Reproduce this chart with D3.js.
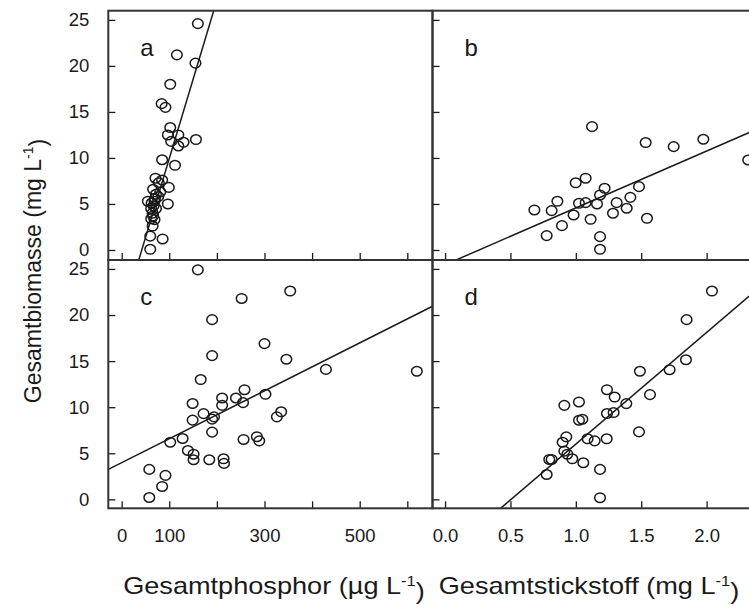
<!DOCTYPE html>
<html>
<head>
<meta charset="utf-8">
<script src="https://cdn.jsdelivr.net/npm/d3@7"></script>
<style>
  html, body { margin: 0; padding: 0; background: #fff; }
  svg { display: block; font-family: "Liberation Sans", Arial, sans-serif; }
</style>
</head>
<body>
<svg id="chart" width="749" height="610"></svg>
<script>
// ---------- data ----------
// Panel a: total phosphorus (µg/L) vs total biomass (mg/L)
const phosA = [160,116,155,102,84,92,102,97,119,156,104,130,119,85,112,71,85,78,99,66,72,81,55,69,97,62,72,65,62,69,65,60,86,60,77,63,67,66,70];
const bioA  = [24.6,21.2,20.3,18.0,15.9,15.5,13.3,12.5,12.5,12.0,11.8,11.7,11.3,9.8,9.2,7.8,7.6,7.3,6.8,6.6,6.05,6.3,5.3,5.3,5.0,4.5,4.5,4.0,3.4,3.3,2.6,1.5,1.2,0.07,5.8,5.1,4.8,3.7,5.6];
// Panel b: total nitrogen (mg/L) vs total biomass
const nitB = [0.683,0.777,0.815,0.859,0.894,0.983,0.999,1.024,1.075,1.075,1.124,1.113,1.162,1.185,1.220,1.185,1.185,1.284,1.312,1.389,1.417,1.483,1.534,1.544,1.748,1.975,2.318];
const bioB = [4.35,1.56,4.28,5.29,2.64,3.8,7.3,5.07,7.8,5.14,13.4,3.33,5.0,5.98,6.7,1.45,0.07,3.99,5.14,4.53,5.72,6.88,11.67,3.44,11.23,12.03,9.78];
// Panel c
const phosC = [160,252,354,190,300,190,346,429,620,166,258,211,240,302,255,211,149,172,194,190,149,335,326,190,128,102,256,284,289,139,151,151,184,214,215,58,92,85,58];
const bioC  = [24.9,21.8,22.6,19.5,16.9,15.6,15.2,14.1,13.9,13.0,11.9,11.0,11.0,11.4,10.5,10.2,10.4,9.3,8.95,8.7,8.6,9.5,8.95,7.3,6.6,6.2,6.5,6.8,6.35,5.3,4.9,4.3,4.3,4.4,3.9,3.25,2.6,1.4,0.2];
// Panel d
const nitD = [2.041,1.847,1.842,1.717,1.490,1.567,1.238,1.297,1.386,0.912,1.024,1.024,1.050,1.238,1.289,1.483,0.927,0.899,1.090,1.144,1.236,0.912,0.935,0.973,0.797,0.815,1.057,0.777,1.185,1.185];
const bioD = [22.6,19.5,15.15,14.07,13.9,11.36,11.9,11.1,10.39,10.2,10.57,8.59,8.69,9.31,9.42,7.32,6.78,6.2,6.57,6.35,6.57,5.23,4.9,4.4,4.33,4.33,3.97,2.7,3.25,0.18];
// fitted regression lines [intercept, slope]
const fitA = [-7.26, 0.172];
const fitB = [-1.61, 6.18];
const fitC = [3.98, 0.026];
const fitD = [-6.12, 12.12];
// ticks
const bioTicks = [0, 5, 10, 15, 20, 25];
const phosTicks = [0, 100, 200, 300, 400, 500, 600];
const phosTickLabels = ["0", "100", "", "300", "", "500", ""];
const nitTicks = [0, 0.5, 1.0, 1.5, 2.0];
const nitTickLabels = ["0.0", "0.5", "1.0", "1.5", "2.0"];
const panelLetters = ["a", "b", "c", "d"];

// ---------- layout ----------
const svg = d3.select("#chart");
const X0 = 108.3, XM = 432.5, X1 = 756.7;
const Y0 = 10.7, YM = 260, Y1 = 508.3;
const ink = "#1a1a1a";

const xP = d3.scaleLinear().domain([-28.1, 652.9]).range([X0, XM]);
const xN = d3.scaleLinear().domain([-0.096, 2.383]).range([XM, X1]);
const yT = d3.scaleLinear().domain([-1.09, 26.0]).range([YM, Y0]);
const yB = d3.scaleLinear().domain([-0.97, 25.97]).range([Y1, YM]);

const panels = [
  {x: xP, y: yT, xs: phosA, ys: bioA, fit: fitA, letter: panelLetters[0], left: true,  bottom: false},
  {x: xN, y: yT, xs: nitB,  ys: bioB, fit: fitB, letter: panelLetters[1], left: false, bottom: false},
  {x: xP, y: yB, xs: phosC, ys: bioC, fit: fitC, letter: panelLetters[2], left: true,  bottom: true},
  {x: xN, y: yB, xs: nitD,  ys: bioD, fit: fitD, letter: panelLetters[3], left: false, bottom: true}
];

panels.forEach((p, i) => {
  const [rx0, rx1] = p.x.range();
  const [ry1, ry0] = p.y.range();
  const id = "clip" + i;
  svg.append("clipPath").attr("id", id)
    .append("rect").attr("x", rx0).attr("y", ry0).attr("width", rx1 - rx0).attr("height", ry1 - ry0);
  const g = svg.append("g");
  const inner = g.append("g").attr("clip-path", `url(#${id})`);

  // regression line
  const [d0, d1] = p.x.domain();
  inner.append("line")
    .attr("x1", p.x(d0)).attr("y1", p.y(p.fit[0] + p.fit[1] * d0))
    .attr("x2", p.x(d1)).attr("y2", p.y(p.fit[0] + p.fit[1] * d1))
    .attr("stroke", ink).attr("stroke-width", 1.5);

  // points
  inner.selectAll("ellipse").data(p.xs.map((v, k) => [v, p.ys[k]])).join("ellipse")
    .attr("cx", d => p.x(d[0])).attr("cy", d => p.y(d[1])).attr("rx", 5.3).attr("ry", 4.8)
    .attr("fill", "none").attr("stroke", ink).attr("stroke-width", 1.5);

  // y axis (inward ticks)
  const yAx = d3.axisLeft(p.y).tickValues(bioTicks).tickSize(-7).tickPadding(19)
    .tickFormat(p.left ? d3.format("d") : () => "");
  const ga = g.append("g").attr("transform", `translate(${rx0},0)`).call(yAx);

  // x axis (inward ticks)
  const isP = p.x === xP;
  const xt = isP ? phosTicks : nitTicks;
  const xl = isP ? phosTickLabels : nitTickLabels;
  const xAx = d3.axisBottom(p.x).tickValues(xt).tickSize(-7).tickPadding(21)
    .tickFormat(p.bottom ? (d, k) => xl[k] : () => "");
  const gb = g.append("g").attr("transform", `translate(0,${ry1})`).call(xAx);

  [ga, gb].forEach(a => {
    a.select(".domain").remove();
    a.selectAll("line").attr("stroke", ink).attr("stroke-width", 1.3);
    a.selectAll("text").attr("fill", ink).style("font-size", "18.5px")
      .style("font-family", "'Liberation Sans', Arial, sans-serif");
  });

  // frame
  g.append("rect").attr("x", rx0).attr("y", ry0).attr("width", rx1 - rx0).attr("height", ry1 - ry0)
    .attr("fill", "none").attr("stroke", "#333").attr("stroke-width", 2);

  // panel letter
  g.append("text").attr("x", rx0 + 32).attr("y", ry0 + 45).text(p.letter)
    .attr("fill", ink).style("font-size", "24px");
});

// axis titles
function title(sel, main, close) {
  sel.append("tspan").text(main);
  sel.append("tspan").attr("dy", "-0.55em").style("font-size", "14px").text("-1");
  sel.append("tspan").attr("dy", "0.55em").text(close);
}
const yt = svg.append("text").attr("transform", "translate(41,271) rotate(-90)")
  .attr("text-anchor", "middle").attr("fill", ink).style("font-size", "23px");
title(yt, "Gesamtbiomasse (mg L", ")");

const xt1 = svg.append("g").attr("transform", "translate(274,594) scale(1.18,1)")
  .append("text").attr("x", 0).attr("y", 0)
  .attr("text-anchor", "middle").attr("fill", ink).style("font-size", "23px");
title(xt1, "Gesamtphosphor (\u00b5g L", ")");

const xt2 = svg.append("g").attr("transform", "translate(589,594) scale(1.18,1)")
  .append("text").attr("x", 0).attr("y", 0)
  .attr("text-anchor", "middle").attr("fill", ink).style("font-size", "23px");
title(xt2, "Gesamtstickstoff (mg L", ")");
</script>
</body>
</html>
